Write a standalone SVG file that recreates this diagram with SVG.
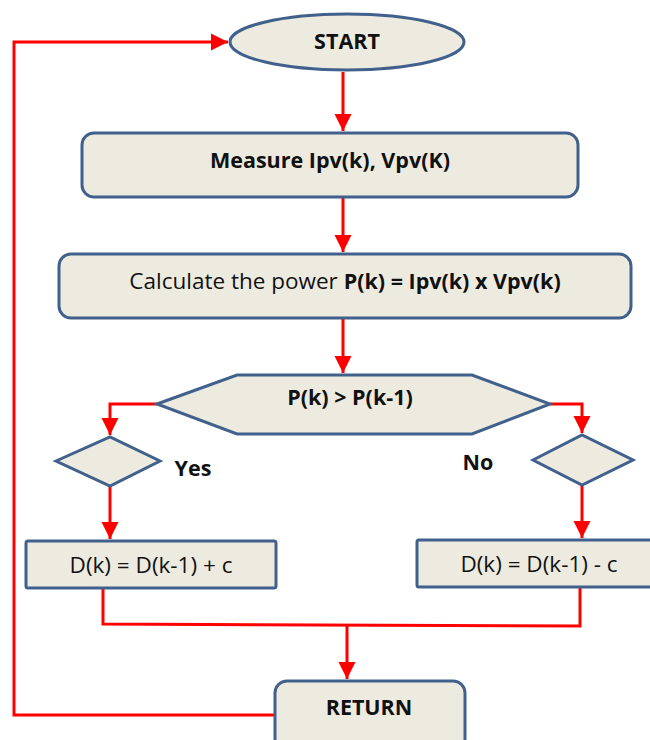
<svg xmlns="http://www.w3.org/2000/svg" width="650" height="740" viewBox="0 0 650 740">
  <style>
    .node { fill: #edebe0; stroke: #41618c; stroke-width: 3; }
    .flow { fill: none; stroke: #ff0000; stroke-width: 3; }
    .lbl { font-family: "Open Sans", Lato, "Liberation Sans", sans-serif; font-size: 22.5px; fill: #111; text-anchor: middle; dominant-baseline: central; }
    .b { font-weight: bold; font-size: 21.5px; }
  </style>
  <defs>
    <marker id="arrow" markerUnits="userSpaceOnUse" markerWidth="18" markerHeight="18" viewBox="0 0 18 18" refX="17" refY="9" orient="auto">
      <path d="M0,0.5 L17,9 L0,17.5 Z" fill="#ff0000"/>
    </marker>
  </defs>
  <rect width="650" height="740" fill="#ffffff"/>

  <g id="connectors">
    <path class="flow" d="M275,715 H14 V42 H228" marker-end="url(#arrow)"/>
    <path class="flow" d="M343,72 V131" marker-end="url(#arrow)"/>
    <path class="flow" d="M343,197 V252" marker-end="url(#arrow)"/>
    <path class="flow" d="M343,318 V373" marker-end="url(#arrow)"/>
    <path class="flow" d="M157,404 H110 V435" marker-end="url(#arrow)"/>
    <path class="flow" d="M550,404 H582 V433" marker-end="url(#arrow)"/>
    <path class="flow" d="M110,486 V539" marker-end="url(#arrow)"/>
    <path class="flow" d="M582,485 V538" marker-end="url(#arrow)"/>
    <path class="flow" d="M103,588 V624 L580,626 V587"/>
    <path class="flow" d="M347,625 V679" marker-end="url(#arrow)"/>
  </g>

  <g id="start">
    <ellipse class="node" cx="347" cy="42" rx="117" ry="28"/>
    <text class="lbl b" x="347" y="40.5">START</text>
  </g>
  <g id="measure">
    <rect class="node" x="82" y="133" width="496" height="64" rx="12"/>
    <text class="lbl b" x="330" y="159.5">Measure Ipv(k), Vpv(K)</text>
  </g>
  <g id="calculate">
    <rect class="node" x="59" y="254" width="572" height="64" rx="12"/>
    <text class="lbl" x="345" y="280">Calculate the power <tspan class="b">P(k) = Ipv(k) x Vpv(k)</tspan></text>
  </g>
  <g id="compare">
    <polygon class="node" points="157,404 237,375 472,375 550,404 472,434 237,434"/>
    <text class="lbl b" x="350" y="396.5">P(k) &gt; P(k-1)</text>
  </g>
  <g id="yes-branch">
    <polygon class="node" points="56,461 110,437 160,461 110,486"/>
    <text class="lbl b" x="193" y="467.5">Yes</text>
  </g>
  <g id="no-branch">
    <polygon class="node" points="533,460 582,435 633,460 582,485"/>
    <text class="lbl b" x="478" y="461">No</text>
  </g>
  <g id="increase">
    <rect class="node" x="26" y="541" width="250" height="47" rx="2"/>
    <text class="lbl" x="151" y="564">D(k) = D(k-1) + c</text>
  </g>
  <g id="decrease">
    <rect class="node" x="417" y="540" width="245" height="47" rx="2"/>
    <text class="lbl" x="539" y="563">D(k) = D(k-1) - c</text>
  </g>
  <g id="return">
    <rect class="node" x="275" y="681" width="190" height="70" rx="12"/>
    <text class="lbl b" x="369" y="706">RETURN</text>
  </g>
</svg>
